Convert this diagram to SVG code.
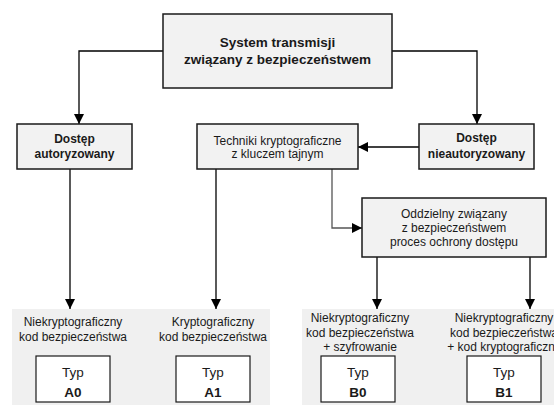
<svg xmlns="http://www.w3.org/2000/svg" width="554" height="414" viewBox="0 0 554 414">
  <defs>
    <marker id="arrow" viewBox="0 0 10 10" refX="10" refY="5" markerWidth="10" markerHeight="10" markerUnits="userSpaceOnUse" orient="auto">
      <path d="M0,0 L10,5 L0,10 z" fill="#000"/>
    </marker>
    <style>
      .box { fill: #f2f2f2; stroke: #1a1a1a; stroke-width: 1.5; }
      .typ { fill: #ffffff; stroke: #1a1a1a; stroke-width: 1.2; }
      .panel { fill: #f0f0f0; stroke: none; }
      .t { font-family: "Liberation Sans", Arial, sans-serif; font-size: 12px; fill: #1a1a1a; text-anchor: middle; }
      .b { font-weight: bold; }
      .big { font-size: 13.5px; }
      .typt { font-size: 13.5px; }
      .wire { fill: none; stroke: #000; stroke-width: 1.3; }
      .wire-g { fill: none; stroke: #555; stroke-width: 1.3; }
    </style>
  </defs>

  <rect width="554" height="414" fill="#ffffff"/>

  <!-- gray panels holding the result types -->
  <rect class="panel" x="12" y="309" width="258" height="96"/>
  <rect class="panel" x="302" y="309" width="252" height="96"/>

  <!-- connectors -->
  <g id="connectors">
    <polyline class="wire" points="163,51 79,51 79,124" marker-end="url(#arrow)"/>
    <polyline class="wire" points="392,51 477,51 477,124" marker-end="url(#arrow)"/>
    <line class="wire" x1="419" y1="147" x2="358" y2="147" marker-end="url(#arrow)"/>
    <line class="wire" x1="70" y1="169" x2="70" y2="309" marker-end="url(#arrow)"/>
    <line class="wire" x1="216" y1="169" x2="216" y2="309" marker-end="url(#arrow)"/>
    <polyline class="wire-g" points="332,169 332,228 362,228" marker-end="url(#arrow)"/>
    <line class="wire" x1="377" y1="257" x2="377" y2="309" marker-end="url(#arrow)"/>
    <line class="wire" x1="530" y1="257" x2="530" y2="309" marker-end="url(#arrow)"/>
  </g>

  <g id="system">
    <rect class="box" x="163" y="14" width="229" height="74"/>
    <text class="t b big" x="277.5" y="47">System transmisji</text>
    <text class="t b big" x="277.5" y="64">związany z bezpieczeństwem</text>
  </g>

  <g id="dostep-autoryzowany">
    <rect class="box" x="17" y="124" width="115" height="45"/>
    <text class="t b" x="74.5" y="143">Dostęp</text>
    <text class="t b" x="74.5" y="158">autoryzowany</text>
  </g>

  <g id="techniki">
    <rect class="box" x="197" y="124" width="161" height="45"/>
    <text class="t" x="277.5" y="145">Techniki kryptograficzne</text>
    <text class="t" x="277.5" y="158">z kluczem tajnym</text>
  </g>

  <g id="dostep-nieautoryzowany">
    <rect class="box" x="419" y="124" width="115" height="45"/>
    <text class="t b" x="476.5" y="142">Dostęp</text>
    <text class="t b" x="476.5" y="158">nieautoryzowany</text>
  </g>

  <g id="oddzielny">
    <rect class="box" x="362" y="198" width="184" height="59"/>
    <text class="t" x="454" y="218">Oddzielny związany</text>
    <text class="t" x="454" y="232">z bezpieczeństwem</text>
    <text class="t" x="454" y="246">proces ochrony dostępu</text>
  </g>

  <g id="typ-a0">
    <text class="t" x="73" y="326">Niekryptograficzny</text>
    <text class="t" x="73" y="341">kod bezpieczeństwa</text>
    <rect class="typ" x="36" y="356" width="74" height="46"/>
    <text class="t typt" x="73" y="377">Typ</text>
    <text class="t b typt" x="73" y="397">A0</text>
  </g>

  <g id="typ-a1">
    <text class="t" x="213" y="326">Kryptograficzny</text>
    <text class="t" x="213" y="341">kod bezpieczeństwa</text>
    <rect class="typ" x="176" y="356" width="74" height="46"/>
    <text class="t typt" x="213" y="377">Typ</text>
    <text class="t b typt" x="213" y="397">A1</text>
  </g>

  <g id="typ-b0">
    <text class="t" x="360" y="322">Niekryptograficzny</text>
    <text class="t" x="360" y="337">kod bezpieczeństwa</text>
    <text class="t" x="360" y="351">+ szyfrowanie</text>
    <rect class="typ" x="321" y="356" width="74" height="46"/>
    <text class="t typt" x="358" y="377">Typ</text>
    <text class="t b typt" x="358" y="397">B0</text>
  </g>

  <g id="typ-b1">
    <text class="t" x="504" y="322">Niekryptograficzny</text>
    <text class="t" x="504" y="337">kod bezpieczeństwa</text>
    <text class="t" x="504" y="351">+ kod kryptograficzny</text>
    <rect class="typ" x="467" y="356" width="74" height="46"/>
    <text class="t typt" x="504" y="377">Typ</text>
    <text class="t b typt" x="504" y="397">B1</text>
  </g>
</svg>
